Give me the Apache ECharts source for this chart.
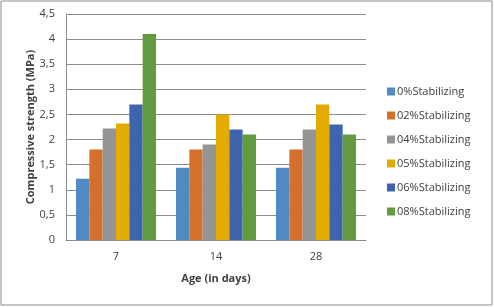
<!DOCTYPE html>
<html>
<head>
<meta charset="utf-8">
<script src="https://cdn.jsdelivr.net/npm/echarts@6/dist/echarts.min.js"></script>
<style>
  html, body { margin: 0; padding: 0; background: #fff; }
  #chart { width: 494px; height: 307px; }
</style>
</head>
<body>
<div id="chart"></div>
<script>
// data
var ages = ["7", "14", "28"];
var seriesNames = ["0%Stabilizing", "02%Stabilizing", "04%Stabilizing", "05%Stabilizing", "06%Stabilizing", "08%Stabilizing"];
var stab0 = [1.22, 1.44, 1.44];
var stab2 = [1.8, 1.8, 1.8];
var stab4 = [2.22, 1.9, 2.2];
var stab5 = [2.32, 2.5, 2.7];
var stab6 = [2.7, 2.2, 2.3];
var stab8 = [4.1, 2.1, 2.1];
var colors = ["#4f8bc0", "#d4702c", "#959595", "#e3aa00", "#3e64ae", "#629a3f"];

var font = "'Open Sans', 'Liberation Sans', sans-serif";
var allValues = [stab0, stab2, stab4, stab5, stab6, stab8];

var chart = echarts.init(document.getElementById("chart"));
chart.setOption({
  backgroundColor: "#ffffff",
  animation: false,
  color: colors,
  textStyle: { fontFamily: font },
  graphic: [{
    type: "rect",
    shape: { x: 1, y: 1, width: 491, height: 304 },
    style: { fill: "none", stroke: "#8c8c8c", lineWidth: 1 },
    silent: true
  }],
  grid: { left: 66, right: 128, top: 14, bottom: 67 },
  legend: {
    orient: "vertical",
    left: 382,
    top: 81,
    itemWidth: 8,
    itemHeight: 8,
    itemGap: 13,
    icon: "rect",
    textStyle: { fontSize: 11, color: "#404040", fontFamily: font, padding: [0, 0, 0, -3] },
    data: seriesNames
  },
  xAxis: {
    type: "category",
    data: ages,
    name: "Age (in days)",
    nameLocation: "middle",
    nameGap: 33,
    nameMoveOverlap: false,
    nameTextStyle: { fontSize: 11, fontWeight: "bold", color: "#404040", fontFamily: font },
    axisLine: { lineStyle: { color: "#8c8c8c" } },
    axisTick: { show: false },
    axisLabel: { fontSize: 11, color: "#404040", margin: 11 }
  },
  yAxis: {
    type: "value",
    min: 0,
    max: 4.5,
    interval: 0.5,
    name: "Compressive strength (MPa)",
    nameLocation: "middle",
    nameGap: 30,
    nameMoveOverlap: false,
    nameTextStyle: { fontSize: 11, fontWeight: "bold", color: "#404040", fontFamily: font },
    axisLine: { show: true, lineStyle: { color: "#8c8c8c" } },
    axisTick: { show: false },
    axisLabel: {
      fontSize: 11,
      color: "#404040",
      margin: 11,
      formatter: function (v) { return String(v).replace(".", ","); }
    },
    splitLine: { lineStyle: { color: "#8c8c8c" } }
  },
  series: seriesNames.map(function (name, i) {
    return {
      name: name,
      type: "bar",
      data: allValues[i],
      barGap: "0%",
      barCategoryGap: "20%"
    };
  })
});
</script>
</body>
</html>
